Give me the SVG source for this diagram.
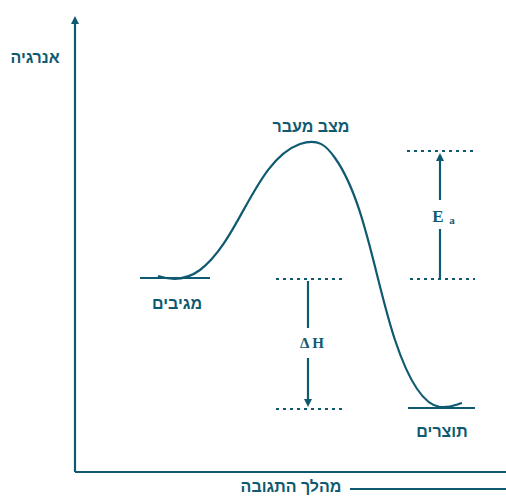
<svg xmlns="http://www.w3.org/2000/svg" width="506" height="498" viewBox="0 0 506 498">
<defs>
<style>
.ln{stroke:#0f5a70;stroke-width:2.2;fill:none}
.dot{stroke:#0f5a70;stroke-width:2;stroke-dasharray:3 4;fill:none}
.t{font-family:"Liberation Sans","DejaVu Sans",sans-serif;font-size:16px;font-weight:bold;fill:#0f5a70;text-anchor:middle}
.s{font-family:"Liberation Serif",serif;font-weight:bold;fill:#0f5a70;text-anchor:middle}
</style>
<marker id="ah" markerWidth="8" markerHeight="8" refX="4" refY="4" orient="auto" markerUnits="userSpaceOnUse">
<path d="M0,0 L8,4 L0,8 Z" fill="#0f5a70"/>
</marker>
</defs>
<rect width="506" height="498" fill="#fff"/>
<g id="axes">
<path class="ln" d="M75,472 V20" marker-end="url(#ah)"/>
<path class="ln" d="M75,472 H506"/>
<path class="ln" d="M350,489 H506"/>
</g>
<g id="labels">
<text class="t" x="35" y="63">אנרגיה</text>
<text class="t" x="291" y="492">מהלך התגובה</text>
</g>
<g id="curve">
<path class="ln" d="M140,278 H210"/>
<path class="ln" d="M408,408 H475"/>
<path class="ln" d="M158,276 C170,280 185,281 200,270 C240,240 255,160 300,144 C318,138 326,145 335,158 C365,200 375,280 395,340 C410,385 425,405 440,407 C450,408 455,405 462,403"/>
</g>
<g id="reactants"><text class="t" x="177" y="309">מגיבים</text></g>
<g id="transition"><text class="t" x="311" y="132">מצב מעבר</text></g>
<g id="products"><text class="t" x="442" y="437">תוצרים</text></g>
<g id="connectors">
<path class="dot" d="M407,151 H473"/>
<path class="dot" d="M410,279 H475"/>
<path class="dot" d="M276,279 H342"/>
<path class="dot" d="M276,409 H343"/>
<path class="ln" d="M440,279 V229"/>
<path class="ln" d="M440,200 V157" marker-end="url(#ah)"/>
<path class="ln" d="M308,281 V328"/>
<path class="ln" d="M308,358 V403" marker-end="url(#ah)"/>
</g>
<g id="ea"><text class="s" x="438" y="222" font-size="17">E</text><text class="s" x="452" y="224" font-size="11">a</text></g>
<g id="dh"><text class="s" x="312" y="348" font-size="15">Δ H</text></g>
</svg>
